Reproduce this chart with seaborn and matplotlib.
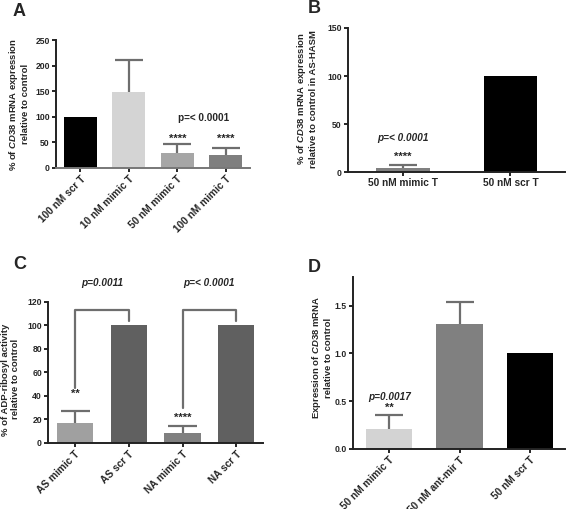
import numpy as np
import pandas as pd
import matplotlib
matplotlib.use('Agg')
import matplotlib.pyplot as plt
import seaborn as sns

sns.set_style('ticks')
plt.rcParams['font.family'] = ['Liberation Sans', 'DejaVu Sans']
plt.rcParams['font.weight'] = 'bold'
plt.rcParams['axes.labelweight'] = 'bold'
plt.rcParams['mathtext.fontset'] = 'custom'
plt.rcParams['mathtext.it'] = 'Liberation Sans:italic:bold'
plt.rcParams['mathtext.rm'] = 'Liberation Sans:bold'

# panel A
a_cats = ['100 nM scr T', '10 nM mimic T', '50 nM mimic T', '100 nM mimic T']
a_vals = [100, 148, 30, 25]
a_err = [0, 63, 16, 15]
a_cols = ['#000000', '#d4d4d4', '#a6a6a6', '#7f7f7f']

# panel B
b_cats = ['50 nM mimic T', '50 nM scr T']
b_vals = [4.5, 100]
b_err = [3, 0]
b_cols = ['#808080', '#000000']

# panel C
c_cats = ['AS mimic T', 'AS scr T', 'NA mimic T', 'NA scr T']
c_vals = [17, 100, 8, 100]
c_err = [10, 0, 6, 0]
c_cols = ['#a0a0a0', '#606060', '#808080', '#606060']

# panel D
d_cats = ['50 nM mimic T', '50 nM ant-mir T', '50 nM scr T']
d_vals = [0.21, 1.31, 1.0]
d_err = [0.14, 0.23, 0]
d_cols = ['#d3d3d3', '#808080', '#000000']

ecol = '#6e6e6e'
fs_lab = 6.8
fs_xt = 7.3
fs_yt = 6.2
fs_star = 8

fig = plt.figure(figsize=(5.67, 5.09), dpi=100)
axA = fig.add_axes([0.099, 0.670, 0.342, 0.251])
axB = fig.add_axes([0.614, 0.662, 0.383, 0.283])
axC = fig.add_axes([0.085, 0.130, 0.379, 0.277])
axD = fig.add_axes([0.623, 0.118, 0.374, 0.338])


def bars(ax, cats, vals, errs, cols, width, cap):
    df = pd.DataFrame({'cat': cats, 'val': vals})
    sns.barplot(data=df, x='cat', y='val', hue='cat', palette=cols, legend=False,
                saturation=1, width=width, errorbar=None, ax=ax, linewidth=0)
    xs = np.arange(len(cats))
    for x, v, e in zip(xs, vals, errs):
        if e > 0:
            ax.vlines(x, v, v + e, color=ecol, lw=1.6, zorder=3)
            ax.hlines(v + e, x - cap, x + cap, color=ecol, lw=1.6, zorder=3)
    ax.set_xlabel('')
    for s in ['top', 'right']:
        ax.spines[s].set_visible(False)
    for s in ['left', 'bottom']:
        ax.spines[s].set_linewidth(1.4)
        ax.spines[s].set_color('#222222')
    ax.tick_params(width=1.4, length=3, pad=1.5)
    ax.tick_params(axis='y', labelsize=fs_yt)
    ax.tick_params(axis='x', labelsize=fs_xt)
    ax.set_xlim(-0.5, len(cats) - 0.5)


bars(axA, a_cats, a_vals, a_err, a_cols, 0.68, 0.29)
axA.set_ylim(0, 250)
axA.set_yticks([0, 50, 100, 150, 200, 250])
axA.set_xticks(range(4))
axA.set_xticklabels(a_cats, rotation=45, ha='right', rotation_mode='anchor')
axA.set_ylabel('% of $\\mathit{CD38}$ mRNA expression\nrelative to control', fontsize=fs_lab)
axA.yaxis.set_label_coords(-0.134, 0.5)
axA.spines['bottom'].set_color('#777777')
axA.text(2.55, 97, 'p=< 0.0001', ha='center', va='center', fontsize=fs_lab + 0.4)
for x in [2, 3]:
    axA.text(x, 57, '****', ha='center', va='center', fontsize=fs_star)

bars(axB, b_cats, b_vals, b_err, b_cols, 0.5, 0.13)
axB.set_ylim(0, 150)
axB.set_yticks([0, 50, 100, 150])
axB.set_xlim(-0.51, 1.51)
axB.set_ylabel('% of $\\mathit{CD38}$ mRNA expression\nrelative to control in AS-HASM', fontsize=fs_lab)
axB.yaxis.set_label_coords(-0.138, 0.507)
axB.text(0, 35, 'p=< 0.0001', ha='center', va='center', fontsize=fs_lab + 0.4, style='italic')
axB.text(0, 15.5, '****', ha='center', va='center', fontsize=fs_star)

bars(axC, c_cats, c_vals, c_err, c_cols, 0.675, 0.27)
axC.set_ylim(0, 120)
axC.set_yticks(range(0, 121, 20))
axC.set_xticks(range(4))
axC.set_xticklabels(c_cats, rotation=45, ha='right', rotation_mode='anchor')
axC.set_ylabel('% of ADP-ribosyl activity\nrelative to control', fontsize=fs_lab)
axC.yaxis.set_label_coords(-0.13, 0.45)
axC.text(0, 42, '**', ha='center', va='center', fontsize=fs_star)
axC.text(2, 21, '****', ha='center', va='center', fontsize=fs_star)
for x0, lo in [(0, 47), (2, 30)]:
    axC.plot([x0, x0, x0 + 1, x0 + 1], [lo, 113, 113, 104], color=ecol, lw=1.6, clip_on=False)
axC.text(0.5, 136, 'p=0.0011', ha='center', va='center', fontsize=fs_lab + 0.4, style='italic')
axC.text(2.5, 136, 'p=< 0.0001', ha='center', va='center', fontsize=fs_lab + 0.4, style='italic')

bars(axD, d_cats, d_vals, d_err, d_cols, 0.66, 0.2)
axD.set_ylim(0, 1.8)
axD.set_yticks([0, 0.5, 1.0, 1.5])
axD.set_yticklabels(['0.0', '0.5', '1.0', '1.5'])
axD.set_xlim(-0.51, 2.5)
axD.set_xticks(range(3))
axD.set_xticklabels(d_cats, rotation=45, ha='right', rotation_mode='anchor')
axD.set_ylabel('Expression of $\\mathit{CD38}$ mRNA\nrelative to control', fontsize=fs_lab)
axD.yaxis.set_label_coords(-0.094, 0.53)
axD.text(0, 0.54, 'p=0.0017', ha='center', va='center', fontsize=fs_lab + 0.4, style='italic')
axD.text(0, 0.43, '**', ha='center', va='center', fontsize=fs_star)

for lab, x, y in [('A', 0.023, 0.978), ('B', 0.543, 0.983), ('C', 0.023, 0.481), ('D', 0.543, 0.474)]:
    fig.text(x, y, lab, fontsize=13, fontweight='bold', ha='left', va='center')

fig.savefig('out.png', dpi=100)
